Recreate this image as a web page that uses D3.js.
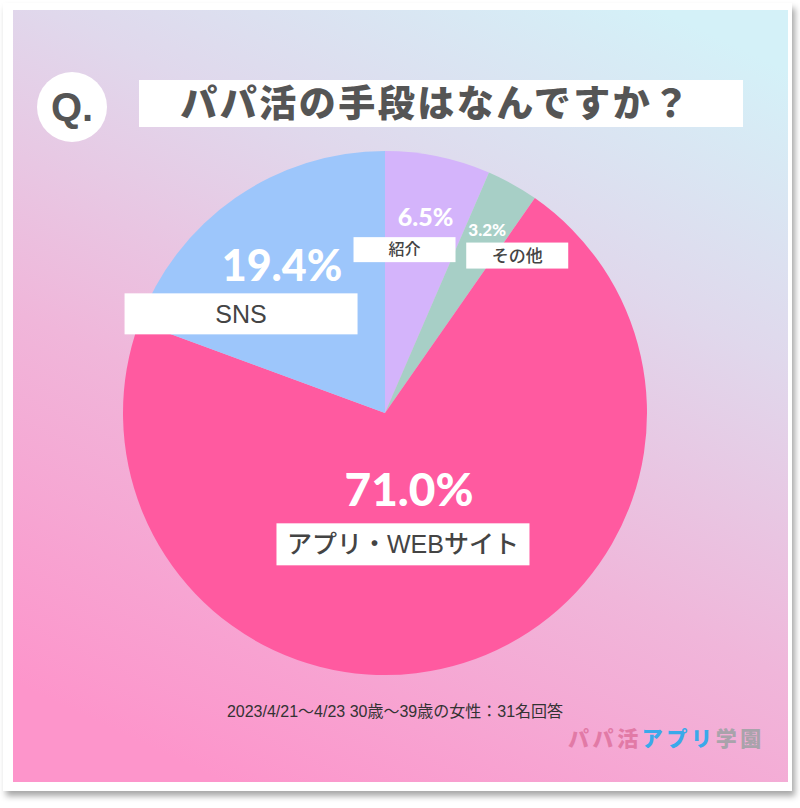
<!DOCTYPE html>
<html><head><meta charset="utf-8">
<script src="https://cdn.jsdelivr.net/npm/d3@7"></script>
<style>html,body{margin:0;padding:0;background:#fff;}svg{display:block;}</style>
</head><body>
<script>
// ---- data ----
const categories = ["紹介", "その他", "アプリ・WEBサイト", "SNS"];
const values = [6.5, 3.2, 71.0, 19.4];
const valueLabels = ["6.5%", "3.2%", "71.0%", "19.4%"];
const colors = ["#d4b4fb", "#a7cfc6", "#ff5aa0", "#9dc6fb"];
const title = "パパ活の手段はなんですか？";
const note = "2023/4/21～4/23 30歳～39歳の女性：31名回答";

// ---- label styling (layout only) ----
const labelStyle = [
  {rho: 200, pctSize: 25, boxDx: -21, boxTop: 20, boxW: 102, boxH: 25, txtSize: 16},
  {rho: 210, pctSize: 17, boxDx: 30, boxTop: 13, boxW: 102, boxH: 26, txtSize: 17},
  {rho: 80, pctSize: 46, boxDx: -6, boxTop: 34, boxW: 253, boxH: 42, txtSize: 25},
  {rho: 180, pctSize: 43, boxDx: -41, boxTop: 28, boxW: 233, boxH: 41, txtSize: 25}
];

const W = 800, H = 808;
const svg = d3.select("body").append("svg").attr("width", W).attr("height", H);
const defs = svg.append("defs");
const g = defs.append("linearGradient").attr("id", "bg")
  .attr("gradientUnits", "userSpaceOnUse")
  .attr("x1", 640).attr("y1", 0).attr("x2", 260).attr("y2", 800);
g.append("stop").attr("offset", 0).attr("stop-color", "#d4f1f8");
g.append("stop").attr("offset", 0.3).attr("stop-color", "#e0d8ec");
g.append("stop").attr("offset", 0.62).attr("stop-color", "#f0b6da");
g.append("stop").attr("offset", 1).attr("stop-color", "#fd95cb");
const f = defs.append("filter").attr("id", "sh").attr("x", "-5%").attr("y", "-5%").attr("width", "115%").attr("height", "115%");
f.append("feDropShadow").attr("dx", 3).attr("dy", 5).attr("stdDeviation", 3).attr("flood-color", "#000").attr("flood-opacity", 0.35);

// frame
svg.append("rect").attr("x", 3).attr("y", 3).attr("width", 789).attr("height", 788)
  .attr("fill", "#fff").attr("filter", "url(#sh)");
svg.append("rect").attr("x", 13).attr("y", 10).attr("width", 775).attr("height", 772).attr("fill", "url(#bg)");

const jp = "'Noto Sans CJK JP', 'Noto Sans', sans-serif";
const lat = "'Liberation Sans', 'Noto Sans CJK JP', sans-serif";

// title
svg.append("circle").attr("cx", 72).attr("cy", 107).attr("r", 35).attr("fill", "#fff");
svg.append("text").attr("x", 72).attr("y", 121).attr("text-anchor", "middle")
  .attr("font-family", "'Liberation Sans', Arial, sans-serif").attr("font-weight", 700)
  .attr("font-size", 40).attr("fill", "#555").text("Q.");
svg.append("rect").attr("x", 139).attr("y", 80).attr("width", 604).attr("height", 47).attr("fill", "#fff");
svg.append("text").attr("x", 436).attr("y", 117).attr("text-anchor", "middle")
  .attr("font-family", jp).attr("font-weight", 900).attr("font-size", 37)
  .attr("fill", "#555").attr("letter-spacing", 2.5).text(title);

// pie
const cx = 385, cy = 413, R = 262;
const pie = d3.pie().sort(null).value(d => d)(values);
const arc = d3.arc().innerRadius(0).outerRadius(R);
const pg = svg.append("g").attr("transform", `translate(${cx},${cy})`);
pg.selectAll("path").data(pie).join("path").attr("d", arc).attr("fill", (d, i) => colors[i]);

// labels
pie.forEach((d, i) => {
  const s = labelStyle[i];
  const c = d3.arc().innerRadius(s.rho).outerRadius(s.rho).centroid(d);
  const px = cx + c[0], py = cy + c[1];
  svg.append("text").attr("x", px).attr("y", py + s.pctSize * 0.36).attr("text-anchor", "middle")
    .attr("font-family", "Lato, 'Noto Sans', sans-serif").attr("font-weight", 900)
    .attr("font-size", s.pctSize).attr("fill", "#fff").text(valueLabels[i]);
  const bx = px + s.boxDx - s.boxW / 2, by = py + s.boxTop;
  svg.append("rect").attr("x", bx).attr("y", by).attr("width", s.boxW).attr("height", s.boxH).attr("fill", "#fff");
  svg.append("text").attr("x", px + s.boxDx).attr("y", by + s.boxH / 2 + s.txtSize * 0.36)
    .attr("text-anchor", "middle").attr("font-family", lat).attr("font-weight", 500)
    .attr("font-size", s.txtSize).attr("fill", "#444").text(categories[i]);
});

// note
svg.append("text").attr("x", 395).attr("y", 717).attr("text-anchor", "middle")
  .attr("font-family", lat).attr("font-size", 16).attr("fill", "#333").text(note);

// logo
const logo = svg.append("text").attr("x", 568).attr("y", 746)
  .attr("font-family", jp).attr("font-weight", 900).attr("font-size", 21).attr("letter-spacing", 3.6);
logo.append("tspan").attr("fill", "#e27aa6").text("パパ活");
logo.append("tspan").attr("fill", "#3aa9ea").text("アプリ");
logo.append("tspan").attr("fill", "#a9a3ab").text("学園");
</script>
</body></html>
